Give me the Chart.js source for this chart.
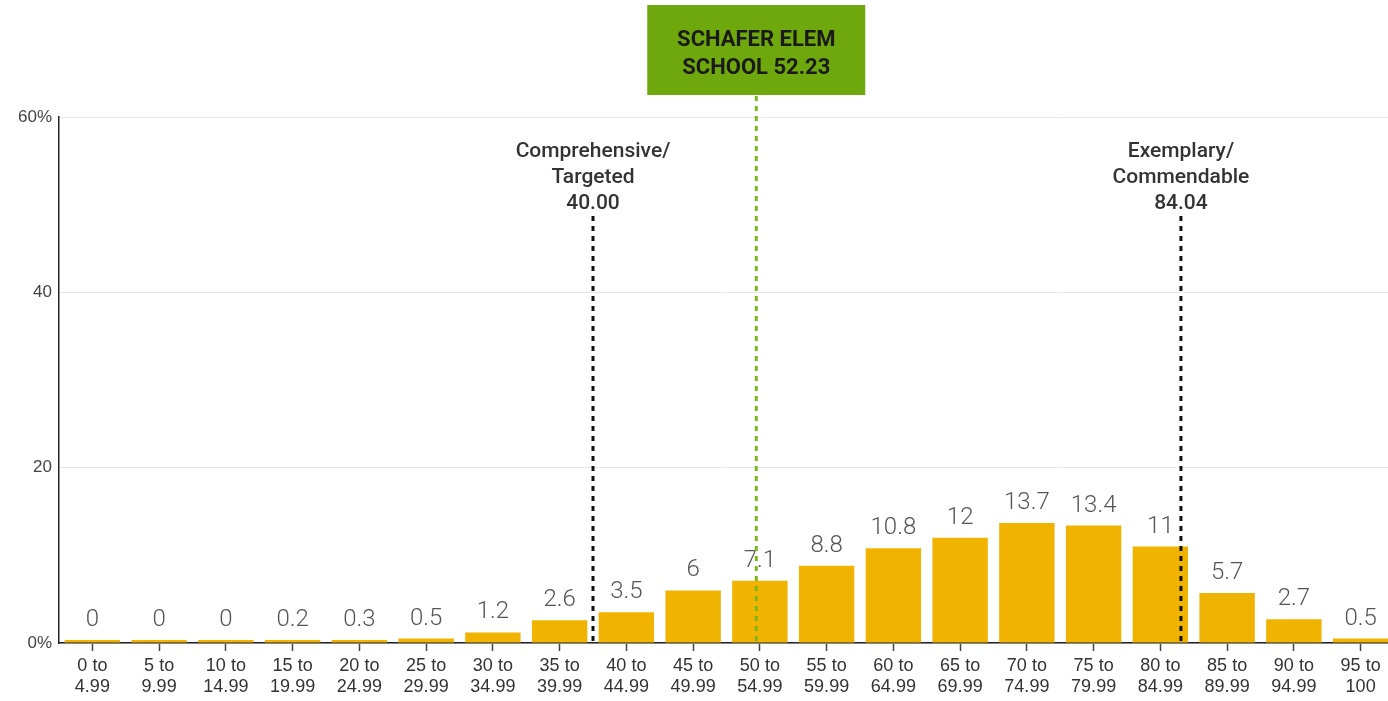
<!DOCTYPE html>
<html lang="en">
<head>
  <meta charset="UTF-8" />
  <title>Score distribution</title>
  <script src="https://cdn.jsdelivr.net/npm/chart.js"></script>
  <style>
    html, body { margin: 0; padding: 0; background: #fff; overflow: hidden; }
    #wrap { width: 1396px; height: 701px; position: relative; }
  </style>
</head>
<body>
  <div id="wrap"><canvas id="grafico"></canvas></div>

  <script>
    // categorias y valores (% de escuelas)
    const rangos = [
      ["0 to", "4.99"], ["5 to", "9.99"], ["10 to", "14.99"], ["15 to", "19.99"],
      ["20 to", "24.99"], ["25 to", "29.99"], ["30 to", "34.99"], ["35 to", "39.99"],
      ["40 to", "44.99"], ["45 to", "49.99"], ["50 to", "54.99"], ["55 to", "59.99"],
      ["60 to", "64.99"], ["65 to", "69.99"], ["70 to", "74.99"], ["75 to", "79.99"],
      ["80 to", "84.99"], ["85 to", "89.99"], ["90 to", "94.99"], ["95 to", "100"]
    ];
    const porcentajes = [0, 0, 0, 0.2, 0.3, 0.5, 1.2, 2.6, 3.5, 6, 7.1, 8.8, 10.8, 12, 13.7, 13.4, 11, 5.7, 2.7, 0.5];
    const ticksY = [0, 20, 40, 60];

    // lineas de referencia
    const cortes = [
      { valor: 40.00, texto: ["Comprehensive/", "Targeted", "40.00"] },
      { valor: 84.04, texto: ["Exemplary/", "Commendable", "84.04"] }
    ];
    const escuela = { valor: 52.23, texto: ["SCHAFER ELEM", "SCHOOL 52.23"] };

    // puntaje -> posicion en la escala de categorias (cada rango mide 5)
    const aIndice = (v) => v / 5 - 0.5;

    const anotaciones = {
      id: "anotaciones",
      afterDatasetsDraw(chart) {
        const { ctx, chartArea, scales } = chart;
        const x = scales.x;
        const meta = chart.getDatasetMeta(0);

        // etiquetas de valor
        ctx.save();
        ctx.font = "300 24px Roboto, 'DejaVu Sans', sans-serif";
        ctx.fillStyle = "#555";
        ctx.textAlign = "center";
        ctx.textBaseline = "bottom";
        meta.data.forEach((bar, i) => {
          ctx.fillText(String(porcentajes[i]), bar.x, bar.y - 8);
        });
        ctx.restore();

        // lineas de corte negras
        cortes.forEach((c) => {
          const px = x.getPixelForValue(aIndice(c.valor));
          ctx.save();
          ctx.strokeStyle = "#111";
          ctx.lineWidth = 3;
          ctx.setLineDash([5, 5]);
          ctx.beginPath();
          ctx.moveTo(px, 216);
          ctx.lineTo(px, chartArea.bottom);
          ctx.stroke();
          ctx.setLineDash([]);
          ctx.font = "500 21px Roboto, 'Liberation Sans', sans-serif";
          ctx.fillStyle = "#333";
          ctx.textAlign = "center";
          ctx.textBaseline = "middle";
          c.texto.forEach((t, k) => ctx.fillText(t, px, 152 + k * 26));
          ctx.restore();
        });

        // escuela (verde)
        const gx = x.getPixelForValue(aIndice(escuela.valor));
        ctx.save();
        ctx.strokeStyle = "#7DB51C";
        ctx.lineWidth = 3;
        ctx.setLineDash([5, 5]);
        ctx.beginPath();
        ctx.moveTo(gx, 96);
        ctx.lineTo(gx, chartArea.bottom);
        ctx.stroke();
        ctx.setLineDash([]);
        ctx.fillStyle = "#6EA80C";
        ctx.fillRect(gx - 109, 5, 218, 90);
        ctx.font = "bold 22px 'Liberation Sans Narrow', Roboto, sans-serif";
        ctx.fillStyle = "#1a1a1a";
        ctx.textAlign = "center";
        ctx.textBaseline = "middle";
        escuela.texto.forEach((t, k) => ctx.fillText(t, gx, 40 + k * 28));
        ctx.restore();
      }
    };

    new Chart(document.getElementById("grafico"), {
      type: "bar",
      data: {
        labels: rangos,
        datasets: [{
          data: porcentajes,
          backgroundColor: "#F0B400",
          barPercentage: 0.83,
          categoryPercentage: 1,
          minBarLength: 3
        }]
      },
      options: {
        responsive: true,
        maintainAspectRatio: false,
        animation: false,
        layout: { padding: { top: 117, right: 2, left: 0, bottom: 0 } },
        plugins: { legend: { display: false }, tooltip: { enabled: false } },
        scales: {
          x: {
            offset: true,
            grid: { offset: false, drawOnChartArea: false, drawTicks: true, tickLength: 8, tickColor: "#444", tickWidth: 1.5 },
            border: { color: "#222", width: 1.5 },
            ticks: {
              color: "#333",
              font: { family: "'Liberation Sans', Arial, sans-serif", size: 18, lineHeight: 1.2 },
              maxRotation: 0,
              autoSkip: false,
              padding: 4
            },
            afterFit: (s) => { s.height = 58; }
          },
          y: {
            min: 0,
            max: 60,
            afterBuildTicks: (s) => { s.ticks = ticksY.map((v) => ({ value: v })); },
            grid: { color: "#e6e6e6", drawTicks: false, lineWidth: 1 },
            border: { color: "#222", width: 1.5 },
            ticks: {
              color: "#444",
              font: { family: "'Liberation Sans', Arial, sans-serif", size: 17 },
              padding: 7,
              callback: (v) => (v === 0 || v === 60 ? v + "%" : v)
            },
            afterFit: (s) => { s.width = 59; }
          }
        }
      },
      plugins: [anotaciones]
    });
  </script>
</body>
</html>
